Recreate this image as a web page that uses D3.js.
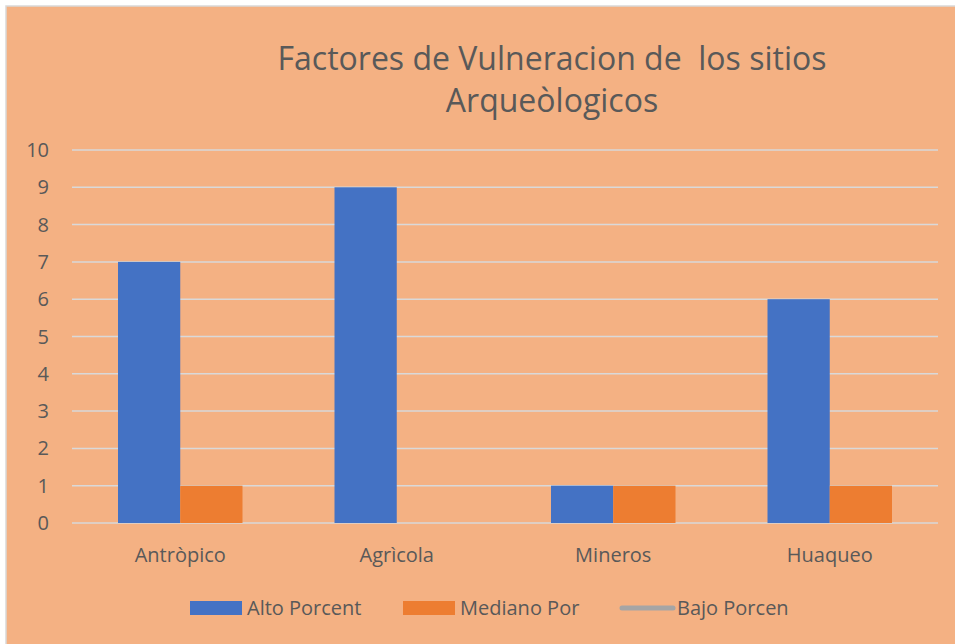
<!doctype html>
<html>
<head>
<meta charset="utf-8">
<title>Factores de Vulneracion</title>
<style>
  body { margin: 0; background: #fff; }
  svg { display: block; }
  .lbl { font-family: "Open Sans", sans-serif; fill: #595959; }
</style>
</head>
<body>
<script src="https://d3js.org/d3.v7.min.js"></script>
<script>
var categories = ["Antròpico", "Agrìcola", "Mineros", "Huaqueo"];
var alto = [7, 9, 1, 6];
var mediano = [1, 0, 1, 1];
var bajo = [null, null, null, null];
var seriesNames = ["Alto Porcent", "Mediano Por", "Bajo Porcen"];
var yTicks = [0, 1, 2, 3, 4, 5, 6, 7, 8, 9, 10];

var W = 955, H = 644;
var svg = d3.select("body").append("svg").attr("width", W).attr("height", H);

// frame
svg.append("rect").attr("x", 6).attr("y", 6).attr("width", W).attr("height", H)
  .attr("fill", "#F4B183").attr("stroke", "#d9d9d9").attr("stroke-width", 1.5);

var plot = { left: 72, right: 938, top: 150, bottom: 523 };

var x = d3.scaleBand().domain(categories).range([plot.left, plot.right]).paddingInner(0.425).paddingOuter(0.2125);
var x1 = d3.scaleBand().domain([0, 1]).range([0, x.bandwidth()]);
var y = d3.scaleLinear().domain([0, 10]).range([plot.bottom, plot.top]);

// gridlines
svg.append("g").selectAll("line").data(yTicks).join("line")
  .attr("x1", plot.left).attr("x2", plot.right)
  .attr("y1", d => y(d)).attr("y2", d => y(d))
  .attr("stroke", "#d9d9d9").attr("stroke-width", 1.5);

// y labels
svg.append("g").selectAll("text").data(yTicks).join("text")
  .attr("class", "lbl").attr("x", 49).attr("y", d => y(d))
  .attr("dy", "0.35em").attr("text-anchor", "end").attr("font-size", 20)
  .text(d => d);

// bars
var colors = ["#4472C4", "#ED7D31"];
[alto, mediano].forEach(function (vals, si) {
  svg.append("g").selectAll("rect").data(vals).join("rect")
    .attr("x", (d, i) => x(categories[i]) + x1(si))
    .attr("width", x1.bandwidth())
    .attr("y", d => y(d))
    .attr("height", d => y(0) - y(d))
    .attr("fill", colors[si]);
});

// bajo series (line, no data)
var line = d3.line().defined(d => d != null)
  .x((d, i) => x(categories[i]) + x.bandwidth() / 2).y(d => y(d));
svg.append("path").datum(bajo).attr("d", line)
  .attr("fill", "none").attr("stroke", "#A5A5A5").attr("stroke-width", 3);

// category labels
svg.append("g").selectAll("text").data(categories).join("text")
  .attr("class", "lbl").attr("x", d => x(d) + x.bandwidth() / 2).attr("y", 555)
  .attr("dy", "0.35em").attr("text-anchor", "middle").attr("font-size", 20)
  .text(d => d);

// title
var title = svg.append("text").attr("class", "lbl").attr("text-anchor", "middle")
  .attr("font-size", 32);
title.append("tspan").attr("x", 552).attr("y", 70).text("Factores de Vulneracion de\u00a0 los sitios");
title.append("tspan").attr("x", 552).attr("y", 112).text("Arqueòlogicos");

// legend
var legX = [190, 403, 620];
var leg = svg.append("g");
seriesNames.forEach(function (name, i) {
  if (i < 2) {
    leg.append("rect").attr("x", legX[i]).attr("y", 601).attr("width", 52).attr("height", 14)
      .attr("fill", colors[i]);
  } else {
    leg.append("line").attr("x1", legX[i] + 2).attr("x2", legX[i] + 53).attr("y1", 608).attr("y2", 608)
      .attr("stroke", "#A5A5A5").attr("stroke-width", 5).attr("stroke-linecap", "round");
  }
  leg.append("text").attr("class", "lbl").attr("x", legX[i] + 57).attr("y", 608)
    .attr("dy", "0.35em").attr("font-size", 20).text(name);
});
</script>
</body>
</html>
